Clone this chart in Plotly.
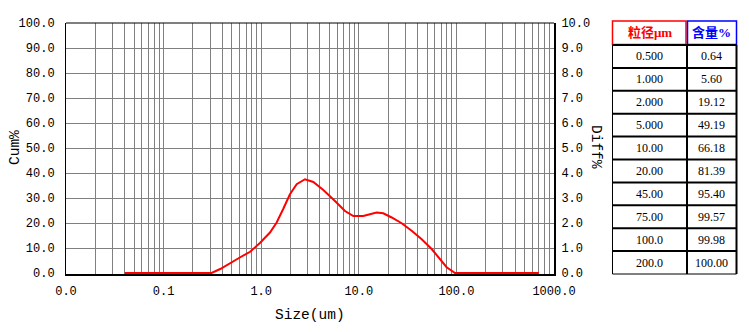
import plotly.graph_objects as go

# ---- data ----
size_um = [0.04, 0.1, 0.2, 0.31, 0.38, 0.52, 0.61, 0.77, 0.97, 1.23, 1.44, 1.69, 1.97,
           2.31, 2.81, 3.42, 4.33, 5.70, 7.22, 8.79, 11.1, 15.2, 17.8, 21.7, 27.5,
           34.8, 44.1, 55.8, 67.9, 79.4, 96.8, 300, 700]
diff_pct = [0, 0, 0, 0, 0.16, 0.45, 0.63, 0.85, 1.20, 1.62, 2.02, 2.58, 3.15,
            3.55, 3.75, 3.64, 3.32, 2.88, 2.48, 2.28, 2.28, 2.42, 2.39, 2.22, 1.99,
            1.69, 1.35, 0.96, 0.56, 0.23, 0.0, 0, 0]

x_decades = [0.01, 0.1, 1, 10, 100, 1000]
x_labels = ["0.0", "0.1", "1.0", "10.0", "100.0", "1000.0"]
cum_ticks = [0, 10, 20, 30, 40, 50, 60, 70, 80, 90, 100]
diff_ticks = [0, 1, 2, 3, 4, 5, 6, 7, 8, 9, 10]

table_size = ["0.500", "1.000", "2.000", "5.000", "10.00", "20.00", "45.00", "75.00", "100.0", "200.0"]
table_content = ["0.64", "5.60", "19.12", "49.19", "66.18", "81.39", "95.40", "99.57", "99.98", "100.00"]
header_size = "粒径μm"
header_content = "含量%"

# ---- layout geometry (pixels) ----
W, H = 749, 332
L, R, T, B = 66, 554, 23, 274


def px(x):
    return (x - L) / (R - L)


def py(y):
    return (B - y) / (B - T)


# grid positions for log axis
tickvals, ticktext = [], []
for d, lab in zip(x_decades, x_labels):
    tickvals.append(d)
    ticktext.append(lab)
    if d < 1000:
        for m in range(2, 10):
            tickvals.append(d * m)
            ticktext.append("")

mono = "Liberation Mono, DejaVu Sans Mono, monospace"
serif = "Liberation Serif, Noto Sans CJK SC, serif"

fig = go.Figure()
# invisible helper so the left (Cum%) axis is drawn
fig.add_trace(go.Scatter(x=size_um, y=diff_pct, mode="lines", yaxis="y",
                         line=dict(color="rgba(0,0,0,0)", width=0), hoverinfo="skip",
                         showlegend=False))
fig.add_trace(go.Scatter(x=size_um, y=diff_pct, mode="lines", yaxis="y2",
                         line=dict(color="#FF0000", width=2), hoverinfo="skip",
                         showlegend=False))

fig.update_layout(
    width=W, height=H,
    margin=dict(l=L, r=W - R, t=T, b=H - B, pad=0, autoexpand=False),
    paper_bgcolor="white", plot_bgcolor="white",
    font=dict(family=mono, size=12, color="black"),
    xaxis=dict(type="log", range=[-2, 3], tickvals=tickvals, ticktext=ticktext,
               showgrid=True, gridcolor="#808080", gridwidth=1,
               showline=True, linecolor="black", linewidth=2, automargin=False,
               ticks="", zeroline=False, ticklabelstandoff=5,
               tickfont=dict(family=mono, size=12)),
    yaxis=dict(range=[-0.4, 100], tickvals=cum_ticks,
               ticktext=[f"{v:.1f}" for v in cum_ticks],
               showgrid=True, gridcolor="#808080", gridwidth=1,
               showline=True, linecolor="black", linewidth=1, automargin=False,
               ticks="", zeroline=False, ticklabelstandoff=8,
               tickfont=dict(family=mono, size=12)),
    yaxis2=dict(range=[-0.04, 10], tickvals=diff_ticks,
                ticktext=[f"{v:.1f}" for v in diff_ticks],
                overlaying="y", side="right", showgrid=False,
                showline=True, linecolor="black", linewidth=2, automargin=False,
                ticks="", zeroline=False, ticklabelstandoff=3,
                tickfont=dict(family=mono, size=12)),
)

shapes = []
annotations = []

# top border
shapes.append(dict(type="line", xref="paper", yref="paper", x0=0, x1=1, y0=1, y1=1,
                   line=dict(color="black", width=1), layer="above"))

# axis titles
annotations.append(dict(text="Size(um)", xref="paper", yref="paper", x=px(310), y=py(315),
                        showarrow=False, xanchor="center", yanchor="middle",
                        font=dict(family=mono, size=14.5, color="black")))
annotations.append(dict(text="Cum%", xref="paper", yref="paper", x=px(15), y=py(148),
                        showarrow=False, xanchor="center", yanchor="middle", textangle=-90,
                        font=dict(family=mono, size=14.5, color="black")))
annotations.append(dict(text="Diff%", xref="paper", yref="paper", x=px(596), y=py(147),
                        showarrow=False, xanchor="center", yanchor="middle", textangle=90,
                        font=dict(family=mono, size=14.5, color="black")))

# ---- table ----
tx0, tmid, tx1 = 612.5, 687, 736.5
hy0, hy1 = 21, 44.5
by0, by1 = 45, 274
nrows = len(table_size)
rh = (by1 - by0) / nrows

shapes.append(dict(type="rect", xref="paper", yref="paper",
                   x0=px(tx0), x1=px(tmid - 1), y0=py(hy1), y1=py(hy0),
                   line=dict(color="#FF0000", width=1.5)))
shapes.append(dict(type="rect", xref="paper", yref="paper",
                   x0=px(tmid + 0.5), x1=px(tx1), y0=py(hy1), y1=py(hy0),
                   line=dict(color="#0000FF", width=1.5)))
annotations.append(dict(text=f"<b>{header_size}</b>", xref="paper", yref="paper",
                        x=px((tx0 + tmid) / 2), y=py((hy0 + hy1) / 2), showarrow=False,
                        xanchor="center", yanchor="middle",
                        font=dict(family=serif, size=13, color="#FF0000")))
annotations.append(dict(text=f"<b>{header_content}</b>", xref="paper", yref="paper",
                        x=px((tmid + tx1) / 2), y=py((hy0 + hy1) / 2), showarrow=False,
                        xanchor="center", yanchor="middle",
                        font=dict(family=serif, size=13, color="#0000FF")))

# body lines
shapes.append(dict(type="line", xref="paper", yref="paper", x0=px(tx0), x1=px(tx0),
                   y0=py(by0), y1=py(by1), line=dict(color="black", width=1)))
shapes.append(dict(type="line", xref="paper", yref="paper", x0=px(tx1), x1=px(tx1),
                   y0=py(by0), y1=py(by1), line=dict(color="black", width=2)))
shapes.append(dict(type="line", xref="paper", yref="paper", x0=px(tmid), x1=px(tmid),
                   y0=py(by0), y1=py(by1), line=dict(color="black", width=2)))
for k in range(nrows):
    yy = by0 + k * rh
    shapes.append(dict(type="line", xref="paper", yref="paper", x0=px(tx0), x1=px(tx1),
                       y0=py(yy), y1=py(yy), line=dict(color="black", width=2)))
shapes.append(dict(type="line", xref="paper", yref="paper", x0=px(tx0), x1=px(tx1),
                   y0=py(by1), y1=py(by1), line=dict(color="black", width=1)))

for k, (s, c) in enumerate(zip(table_size, table_content)):
    yc = by0 + (k + 0.5) * rh
    annotations.append(dict(text=s, xref="paper", yref="paper", x=px((tx0 + tmid) / 2),
                            y=py(yc), showarrow=False, xanchor="center", yanchor="middle",
                            font=dict(family=serif, size=12, color="black")))
    annotations.append(dict(text=c, xref="paper", yref="paper", x=px((tmid + tx1) / 2),
                            y=py(yc), showarrow=False, xanchor="center", yanchor="middle",
                            font=dict(family=serif, size=12, color="black")))

fig.update_layout(shapes=shapes, annotations=annotations)
fig.write_html("out.html", config={"displayModeBar": False},
               post_script="document.body.style.margin='0';document.body.style.padding='0';")
